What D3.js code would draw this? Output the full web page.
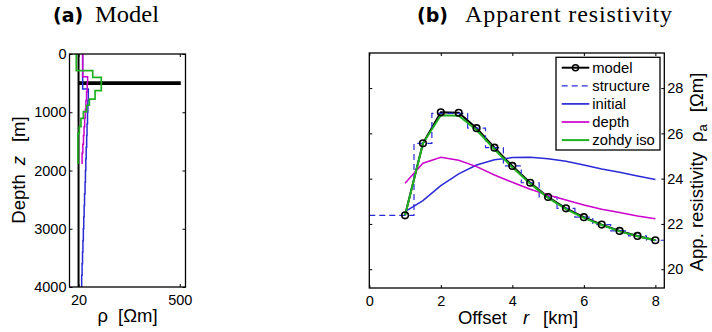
<!DOCTYPE html>
<html>
<head>
<meta charset="utf-8">
<script src="https://cdn.jsdelivr.net/npm/d3@7"></script>
<style>
  body { margin: 0; background: #fff; }
  svg { display: block; }
  text { font-family: "Liberation Sans", Arial, sans-serif; fill: #000; }
</style>
</head>
<body>
<div id="chart"></div>
<script>
// ---- (a) layered models: layer top depth [m] and resistivity [Ohm m]
var modelTop = [0, 485, 515];
var modelRho = [20, 500, 20];
var modelBottom = 4000;

var initTop = [0, 600, 800, 1000, 1200, 1400, 1600, 1800, 2000, 2200, 2400, 2600, 2800, 3000, 3200, 3400, 3600, 3800];
var initRho = [22.8, 27.3, 26.9, 26.6, 26.2, 25.9, 25.5, 25.2, 24.9, 24.6, 24.2, 23.9, 23.6, 23.3, 23.0, 22.7, 22.4, 22.1];
var initBottom = 4000;

var depthTop = [0, 390, 500, 650, 800, 950, 1100, 1250, 1400, 1550, 1700];
var depthRho = [22.8, 26.7, 26.3, 25.8, 25.3, 24.8, 24.3, 23.8, 23.4, 22.9, 22.4];
var depthBottom = 1890;

var zohdyTop = [0, 287, 400, 630, 775, 880, 990, 1105, 1248, 1362];
var zohdyRho = [18.6, 31.4, 41.2, 33.8, 28.2, 25.9, 23.3, 21.6, 20.5, 19.6];
var zohdyBottom = 1888;

var depthTicks = [0, 1000, 2000, 3000, 4000];
var rhoTicks = [20, 500];

// ---- (b) apparent resistivity vs offset
var offsets = [1, 1.5, 2, 2.5, 3, 3.5, 4, 4.5, 5, 5.5, 6, 6.5, 7, 7.5, 8];
var appModel = [22.38, 25.56, 26.93, 26.91, 26.23, 25.37, 24.56, 23.82, 23.19, 22.69, 22.30, 21.97, 21.69, 21.47, 21.28];
var appStructure = [22.38, 25.56, 26.88, 26.88, 26.23, 25.37, 24.56, 23.82, 23.19, 22.69, 22.30, 21.97, 21.69, 21.47, 21.28];
var appInitial = [22.54, 23.03, 23.69, 24.21, 24.60, 24.83, 24.93, 24.94, 24.88, 24.77, 24.60, 24.43, 24.28, 24.12, 23.96];
var appDepth = [23.80, 24.68, 24.94, 24.81, 24.53, 24.16, 23.84, 23.53, 23.28, 23.06, 22.84, 22.65, 22.50, 22.35, 22.23];
var appZohdy = [22.38, 25.55, 26.80, 26.78, 26.15, 25.30, 24.50, 23.78, 23.15, 22.65, 22.27, 21.95, 21.67, 21.46, 21.28];

var offsetTicks = [0, 2, 4, 6, 8];
var appTicks = [20, 22, 24, 26, 28];

var legendNames = ["model", "structure", "initial", "depth", "zohdy iso"];

var BLUE = "#2a2ad6", MAGENTA = "#cc00cc", GREEN = "#22b022";

var svg = d3.select("#chart")
	.append("svg")
	.attr("width", 712)
	.attr("height", 332);

// draw ticks on all four sides, labels only where asked
function frame(g, x, y, xt, yt, yRight) {
	var x0 = d3.min(x.range()), x1 = d3.max(x.range());
	var y0 = d3.min(y.range()), y1 = d3.max(y.range());

	g.append("g").attr("transform", "translate(0," + y1 + ")")
		.call(d3.axisBottom(x).tickValues(xt).tickSize(-3).tickPadding(7.7).tickFormat(d3.format("d")));
	g.append("g").attr("transform", "translate(0," + y0 + ")")
		.call(d3.axisTop(x).tickValues(xt).tickSize(-3).tickFormat(""));
	g.append("g").attr("transform", "translate(" + x0 + ",0)")
		.call(d3.axisLeft(y).tickValues(yt).tickSize(-3).tickPadding(3).tickFormat(yRight ? "" : d3.format("d")));
	g.append("g").attr("transform", "translate(" + x1 + ",0)")
		.call(d3.axisRight(y).tickValues(yt).tickSize(-3).tickPadding(3).tickFormat(yRight ? d3.format("d") : ""));

	g.selectAll(".domain").remove();
	g.selectAll(".tick line").attr("stroke", "#000").attr("stroke-width", 1);
	g.selectAll(".tick text")
		.style("font-family", "'Liberation Sans', Arial, sans-serif")
		.style("font-size", "14.5px")
		.attr("fill", "#000");

	g.append("rect")
		.attr("x", x0).attr("y", y0)
		.attr("width", x1 - x0).attr("height", y1 - y0)
		.attr("fill", "none")
		.attr("stroke", "#000")
		.attr("stroke-width", 1.3);
}

// ---------------- panel (a)
var xa = d3.scaleLog().domain([15, 600]).range([69.5, 185.5]);
var ya = d3.scaleLinear().domain([0, 4000]).range([54, 287]);

var ga = svg.append("g");

function layers(tops, rhos, bottom) {
	var pts = [];
	for (var i = 0; i < tops.length; i++) {
		var bot = i + 1 < tops.length ? tops[i + 1] : bottom;
		pts.push([rhos[i], tops[i]]);
		pts.push([rhos[i], bot]);
	}
	return pts;
}

var profLine = d3.line()
	.x(function(d) { return xa(d[0]); })
	.y(function(d) { return ya(d[1]); });

ga.append("path").datum(layers(modelTop, modelRho, modelBottom))
	.attr("d", profLine).attr("fill", "none").attr("stroke", "#000").attr("stroke-width", 2);
ga.append("path").datum(layers(initTop, initRho, initBottom))
	.attr("d", profLine).attr("fill", "none").attr("stroke", BLUE).attr("stroke-width", 1.5);
ga.append("path").datum(layers(depthTop, depthRho, depthBottom))
	.attr("d", profLine).attr("fill", "none").attr("stroke", MAGENTA).attr("stroke-width", 1.5);
ga.append("path").datum(layers(zohdyTop, zohdyRho, zohdyBottom))
	.attr("d", profLine).attr("fill", "none").attr("stroke", GREEN).attr("stroke-width", 1.7);

frame(ga, xa, ya, rhoTicks, depthTicks, false);

// titles
svg.append("text").attr("x", 53).attr("y", 22)
	.style("font-family", "'DejaVu Sans', sans-serif").style("font-weight", "bold").style("font-size", "19px")
	.text("(a)");
svg.append("text").attr("x", 95).attr("y", 22)
	.style("font-family", "'Liberation Serif', 'DejaVu Serif', serif").style("font-size", "24px")
	.attr("textLength", 64).attr("lengthAdjust", "spacingAndGlyphs")
	.text("Model");
svg.append("text").attr("x", 417).attr("y", 22)
	.style("font-family", "'DejaVu Sans', sans-serif").style("font-weight", "bold").style("font-size", "19px")
	.text("(b)");
svg.append("text").attr("x", 465).attr("y", 22)
	.style("font-family", "'Liberation Serif', 'DejaVu Serif', serif").style("font-size", "24px")
	.attr("textLength", 207).attr("lengthAdjust", "spacing")
	.text("Apparent resistivity");

// axis labels (a)
var la = svg.append("text")
	.attr("transform", "translate(25,170) rotate(-90)")
	.attr("text-anchor", "middle")
	.style("font-size", "18.5px");
la.append("tspan").text("Depth");
la.append("tspan").attr("dx", 9).style("font-style", "italic").text("z");
la.append("tspan").attr("dx", 14).text("[m]");

var lb = svg.append("text")
	.attr("x", 127.5).attr("y", 322)
	.attr("text-anchor", "middle")
	.style("font-size", "18.5px");
lb.append("tspan").text("ρ");
lb.append("tspan").attr("dx", 10).text("[Ωm]");

// ---------------- panel (b)
var xb = d3.scaleLinear().domain([0, 8.25]).range([369.3, 664.3]);
var yb = d3.scaleLinear().domain([19.17, 29.55]).range([288, 53]);

var gb = svg.append("g");

function series(vals) {
	return offsets.map(function(r, i) { return [r, vals[i]]; });
}

var curve = d3.line()
	.x(function(d) { return xb(d[0]); })
	.y(function(d) { return yb(d[1]); });

var stepLine = d3.line()
	.x(function(d) { return xb(d[0]); })
	.y(function(d) { return yb(d[1]); })
	.curve(d3.curveStep);

var structPts = series(appStructure);
structPts.unshift([xb.domain()[0], appStructure[0]]);
structPts.push([xb.domain()[1], appStructure[appStructure.length - 1]]);

gb.append("path").datum(series(appModel))
	.attr("d", curve).attr("fill", "none").attr("stroke", "#000").attr("stroke-width", 2);
gb.append("path").datum(structPts)
	.attr("d", stepLine).attr("fill", "none").attr("stroke", BLUE).attr("stroke-width", 1.2)
	.attr("stroke-dasharray", "6,4");
gb.append("path").datum(series(appInitial))
	.attr("d", curve).attr("fill", "none").attr("stroke", BLUE).attr("stroke-width", 1.5);
gb.append("path").datum(series(appDepth))
	.attr("d", curve).attr("fill", "none").attr("stroke", MAGENTA).attr("stroke-width", 1.5);
gb.append("path").datum(series(appZohdy))
	.attr("d", curve).attr("fill", "none").attr("stroke", GREEN).attr("stroke-width", 2);

gb.selectAll(".marker")
	.data(series(appModel))
	.enter().append("circle")
	.attr("class", "marker")
	.attr("cx", function(d) { return xb(d[0]); })
	.attr("cy", function(d) { return yb(d[1]); })
	.attr("r", 3.3)
	.attr("fill", "none")
	.attr("stroke", "#000")
	.attr("stroke-width", 1.6);

frame(gb, xb, yb, offsetTicks, appTicks, true);

// legend
var leg = svg.append("g");
leg.append("rect")
	.attr("x", 556).attr("y", 57.3)
	.attr("width", 104).attr("height", 92.7)
	.attr("fill", "#fff").attr("stroke", "#000").attr("stroke-width", 1.3);

var legStyle = [
	{ c: "#000", w: 2, dash: null, mark: true },
	{ c: BLUE, w: 1.2, dash: "6,4", mark: false },
	{ c: BLUE, w: 1.7, dash: null, mark: false },
	{ c: MAGENTA, w: 1.7, dash: null, mark: false },
	{ c: GREEN, w: 2, dash: null, mark: false }
];

legendNames.forEach(function(name, i) {
	var yy = 67.7 + i * 18.1;
	var s = legStyle[i];
	leg.append("line")
		.attr("x1", 561.7).attr("x2", 589.3)
		.attr("y1", yy).attr("y2", yy)
		.attr("stroke", s.c).attr("stroke-width", s.w)
		.attr("stroke-dasharray", s.dash);
	if (s.mark) {
		leg.append("circle").attr("cx", 575.5).attr("cy", yy).attr("r", 3)
			.attr("fill", "none").attr("stroke", "#000").attr("stroke-width", 1.5);
	}
	leg.append("text")
		.attr("x", 592.3).attr("y", yy).attr("dy", "0.35em")
		.style("font-size", "14.8px")
		.text(name);
});

// axis labels (b)
var lc = svg.append("text")
	.attr("x", 518).attr("y", 324)
	.attr("text-anchor", "middle")
	.style("font-size", "18.5px");
lc.append("tspan").text("Offset");
lc.append("tspan").attr("dx", 16).style("font-style", "italic").text("r");
lc.append("tspan").attr("dx", 14).text("[km]");

var ld = svg.append("text")
	.attr("transform", "translate(703,172) rotate(-90)")
	.attr("text-anchor", "middle")
	.style("font-size", "18.5px");
ld.append("tspan").text("App. resistivity");
ld.append("tspan").attr("dx", 10).text("ρ");
ld.append("tspan").attr("dy", 4).style("font-size", "13px").text("a");
ld.append("tspan").attr("dy", -4).attr("dx", 12).text("[Ωm]");
</script>
</body>
</html>
